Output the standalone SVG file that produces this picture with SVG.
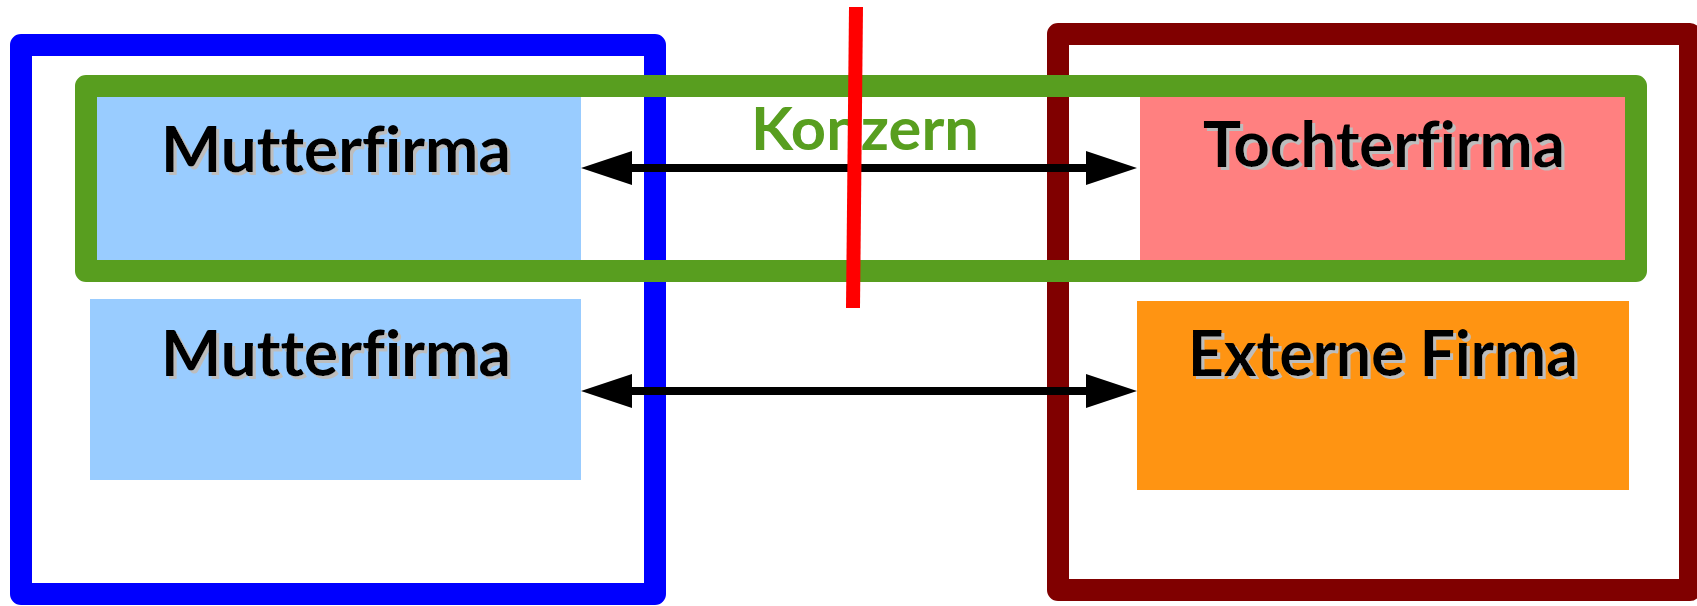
<svg xmlns="http://www.w3.org/2000/svg" width="1697" height="606" viewBox="0 0 1697 606">
  <defs>
    <style>
      .frame { fill: none; stroke-width: 22; stroke-linejoin: round; }
      .label { font-family: Lato, "Liberation Sans", sans-serif; font-weight: 700; font-size: 64px; fill: #000; text-anchor: middle; filter: url(#shadow); font-variant-ligatures: none; font-feature-settings: "liga" 0, "clig" 0; }
      .group-label { font-family: Lato, "Liberation Sans", sans-serif; font-weight: 700; font-size: 60px; fill: #589E1F; text-anchor: middle; font-variant-ligatures: none; }
      .link { stroke: #000; stroke-width: 8; fill: none; marker-start: url(#head); marker-end: url(#head); }
    </style>
    <filter id="shadow" x="-5%" y="-20%" width="115%" height="150%">
      <feFlood flood-color="#BDBDBD" result="c"/>
      <feComposite in="c" in2="SourceAlpha" operator="in" result="s"/>
      <feOffset in="s" dx="2.5" dy="3" result="o"/>
      <feMerge>
        <feMergeNode in="o"/>
        <feMergeNode in="SourceGraphic"/>
      </feMerge>
    </filter>
    <marker id="head" markerUnits="userSpaceOnUse" markerWidth="51" markerHeight="34" refX="0" refY="17" orient="auto-start-reverse" overflow="visible">
      <path d="M0,0 L51,17 L0,34 Z" fill="#000"/>
    </marker>
  </defs>

  <rect width="1697" height="606" fill="#fff"/>

  <!-- parent company domain -->
  <g id="parent-domain">
    <rect class="frame" x="21" y="45" width="634" height="549" stroke="#0000FF"/>
  </g>

  <!-- subsidiary / external domain -->
  <g id="other-domain">
    <rect class="frame" x="1058" y="34" width="632" height="556" stroke="#800000"/>
  </g>

  <g id="mutterfirma-1">
    <rect x="90" y="86" width="491" height="174" fill="#99CCFF"/>
    <text class="label" x="336" y="172" textLength="350" lengthAdjust="spacingAndGlyphs">Mutterfirma</text>
  </g>

  <g id="mutterfirma-2">
    <rect x="90" y="299" width="491" height="181" fill="#99CCFF"/>
    <text class="label" x="336" y="376" textLength="350" lengthAdjust="spacingAndGlyphs">Mutterfirma</text>
  </g>

  <g id="tochterfirma">
    <rect x="1140" y="86" width="490" height="174" fill="#FF8080"/>
    <text class="label" x="1384" y="167" textLength="362" lengthAdjust="spacingAndGlyphs">Tochterfirma</text>
  </g>

  <g id="externe-firma">
    <rect x="1137" y="301" width="492" height="189" fill="#FF9412"/>
    <text class="label" x="1383" y="376" textLength="390" lengthAdjust="spacingAndGlyphs">Externe Firma</text>
  </g>

  <!-- group boundary -->
  <g id="konzern">
    <rect class="frame" x="86" y="86" width="1550" height="185" stroke="#589E1F"/>
    <text class="group-label" x="865" y="150" textLength="228" lengthAdjust="spacingAndGlyphs">Konzern</text>
  </g>

  <g id="connectors">
    <line class="link" x1="632" y1="168" x2="1086" y2="168"/>
    <line class="link" x1="632" y1="391" x2="1086" y2="391"/>
  </g>

  <!-- dividing line -->
  <g id="divider">
    <line x1="856" y1="7" x2="853" y2="308" stroke="#FF0000" stroke-width="14"/>
  </g>
</svg>
